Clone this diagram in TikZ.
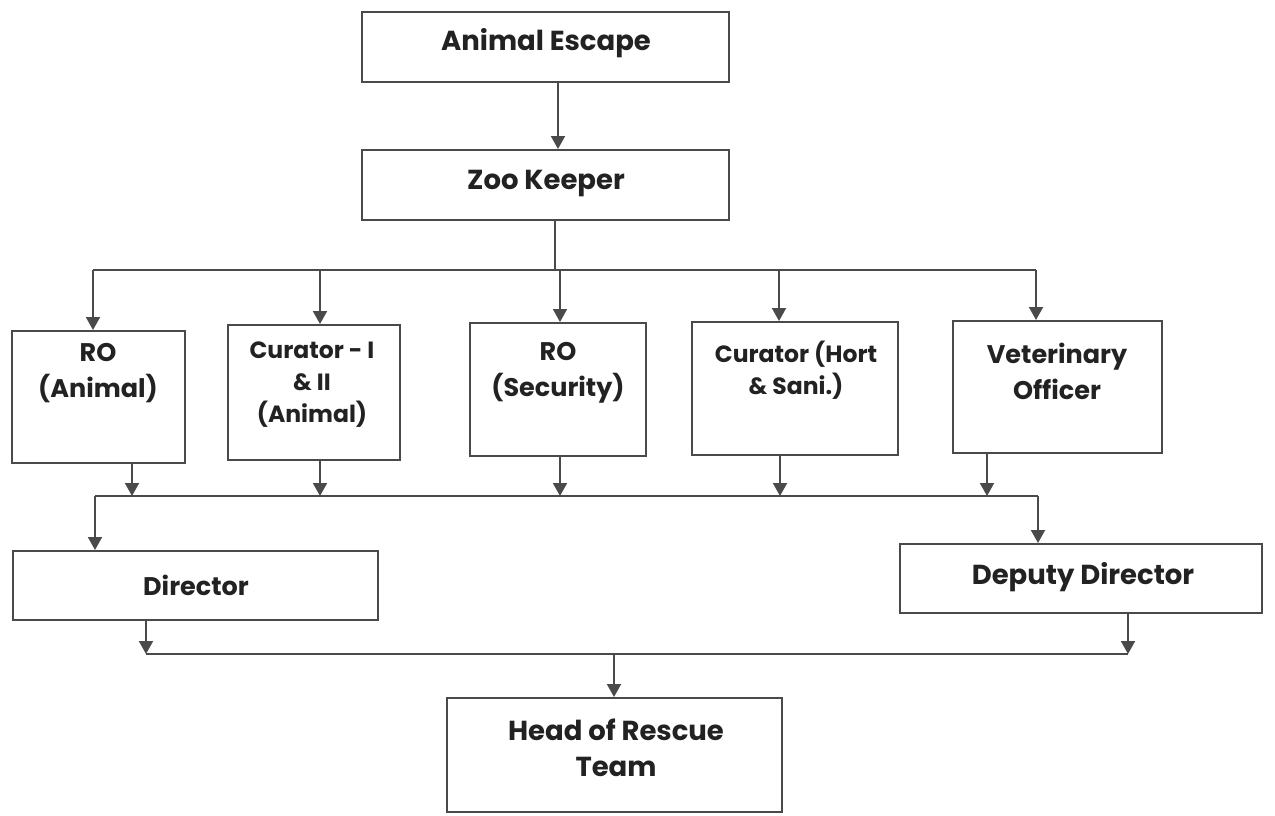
\documentclass[tikz,border=0pt]{standalone}
\usepackage{fontspec}
\setmainfont{Poppins}
\usetikzlibrary{arrows.meta}
\definecolor{lc}{HTML}{4A4A4A}
\definecolor{tc}{HTML}{222222}
\begin{document}
\begin{tikzpicture}[x=1pt,y=-1pt,
  box/.style={draw=lc, line width=2pt, fill=white, inner sep=0pt},
  lbl/.style={font=\bfseries\fontsize{25.5}{36}\selectfont, text=tc, align=center, inner sep=0pt},
  lblL/.style={font=\bfseries\fontsize{27.5}{36}\selectfont, text=tc, align=center, inner sep=0pt},
  lbls/.style={font=\bfseries\fontsize{23.5}{32}\selectfont, text=tc, align=center, inner sep=0pt},
  arr/.style={draw=lc, line width=2pt, -{Triangle[length=13pt,width=14pt]}},
  ln/.style={draw=lc, line width=2pt}]
\useasboundingbox[fill=white] (0,0) rectangle (1275,816);
% boxes
\node[box, minimum width=367pt, minimum height=70pt] (ae) at (545.5,47) {};
\node[box, minimum width=367pt, minimum height=70pt] (zk) at (545.5,185) {};
\node[box, minimum width=173pt, minimum height=132pt] (roa) at (98.5,397) {};
\node[box, minimum width=172pt, minimum height=135pt] (cur) at (314,392.5) {};
\node[box, minimum width=176pt, minimum height=133pt] (ros) at (558,389.5) {};
\node[box, minimum width=206pt, minimum height=133pt] (cuh) at (795,388.5) {};
\node[box, minimum width=209pt, minimum height=132pt] (vet) at (1057.5,387) {};
\node[box, minimum width=365pt, minimum height=69pt] (dir) at (195.5,585.5) {};
\node[box, minimum width=362pt, minimum height=69pt] (dep) at (1081,578.5) {};
\node[box, minimum width=335pt, minimum height=114pt] (head) at (614.5,755) {};
% labels
\node[lblL] (tae) at (546,43) {Animal Escape};
\node[lblL] (tzk) at (546,184) {Zoo Keeper};
\node[lbl] (troa) at (98,373) {RO\\(Animal)};
\node[lbls] (tcur) at (312,385) {Curator - I\\\& II\\(Animal)};
\node[lbl] (tros) at (558,373) {RO\\(Security)};
\node[lbls] (tcuh) at (796,370.5) {Curator (Hort\\\& Sani.)};
\node[lbl] (tvet) at (1057,371) {Veterinary\\Officer};
\node[lbl] (tdir) at (196,585) {Director};
\node[lblL] (tdep) at (1083,577) {Deputy Director};
\node[lblL] (thead) at (616,748) {Head of Rescue\\Team};
% connectors
\coordinate (x1) at (558,0);
\draw[arr] (ae.south -| x1) -- (zk.north -| x1);
\coordinate (t0) at (555,270);
\coordinate (tL) at (93,270);
\coordinate (t2) at (320,270);
\coordinate (t3) at (560,270);
\coordinate (t4) at (779,270);
\coordinate (tR) at (1036,270);
\draw[ln] (zk.south -| t0) -- (t0);
\draw[ln] (tL) -- (tR);
\draw[arr] (tL) -- (roa.north -| tL);
\draw[arr] (t2) -- (cur.north -| t2);
\draw[arr] (t3) -- (ros.north -| t3);
\draw[arr] (t4) -- (cuh.north -| t4);
\draw[arr] (tR) -- (vet.north -| tR);
\coordinate (m1) at (132,496);
\coordinate (m2) at (320,496);
\coordinate (m3) at (560,496);
\coordinate (m4) at (780,496);
\coordinate (m5) at (987,496);
\coordinate (mL) at (95,496);
\coordinate (mR) at (1038,496);
\draw[arr] (roa.south -| m1) -- (m1);
\draw[arr] (cur.south -| m2) -- (m2);
\draw[arr] (ros.south -| m3) -- (m3);
\draw[arr] (cuh.south -| m4) -- (m4);
\draw[arr] (vet.south -| m5) -- (m5);
\draw[ln] (mL) -- (mR);
\draw[arr] (mL) -- (dir.north -| mL);
\draw[arr] (mR) -- (dep.north -| mR);
\coordinate (bL) at (146,654);
\coordinate (bR) at (1128,654);
\coordinate (bM) at (614,654);
\draw[arr] (dir.south -| bL) -- (bL);
\draw[arr] (dep.south -| bR) -- (bR);
\draw[ln] (bL) -- (bR);
\draw[arr] (bM) -- (head.north -| bM);
\end{tikzpicture}
\end{document}
